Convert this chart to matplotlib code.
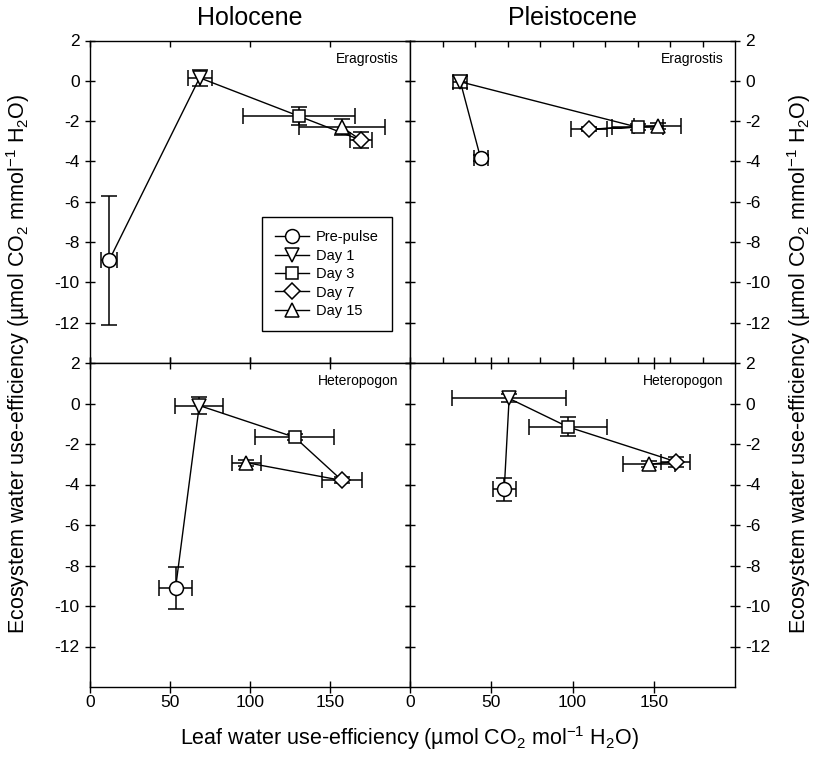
import matplotlib
matplotlib.use('Agg')
import matplotlib.pyplot as plt
from matplotlib.lines import Line2D

plt.rcParams['font.family'] = ['Liberation Sans', 'DejaVu Sans']
plt.rcParams['mathtext.fontset'] = 'custom'
plt.rcParams['mathtext.rm'] = 'Liberation Sans'
plt.rcParams['mathtext.it'] = 'Liberation Sans:italic'
plt.rcParams['mathtext.default'] = 'regular'
plt.rcParams['axes.unicode_minus'] = False

# Sampling dates (order of the connecting line)
stages = ['Pre-pulse', 'Day 1', 'Day 3', 'Day 7', 'Day 15']

# Holocene - Eragrostis
holo_erag_x = [12, 68.5, 130.5, 169.5, 157.5]
holo_erag_y = [-8.9, 0.15, -1.75, -2.95, -2.3]
holo_erag_xerr = [5, 7.5, 35, 7, 27]
holo_erag_yerr = [3.2, 0.4, 0.45, 0.4, 0.4]

# Pleistocene - Eragrostis
pleis_erag_x = [43.5, 31, 140, 110, 152.5]
pleis_erag_y = [-3.85, -0.05, -2.3, -2.4, -2.25]
pleis_erag_xerr = [4.3, 4.3, 15.5, 11, 14.5]
pleis_erag_yerr = [0.15, 0.3, 0.15, 0.1, 0.15]

# Holocene - Heteropogon
holo_het_x = [53.5, 68.3, 128, 157.5, 97.7]
holo_het_y = [-9.1, -0.1, -1.67, -3.8, -2.92]
holo_het_xerr = [10.4, 15, 24.8, 12.3, 9.2]
holo_het_yerr = [1.05, 0.4, 0.15, 0.15, 0.15]

# Pleistocene - Heteropogon
pleis_het_x = [58, 61, 97, 163.5, 147.3]
pleis_het_y = [-4.23, 0.25, -1.15, -2.87, -3.0]
pleis_het_xerr = [7, 35.3, 24, 8.8, 16]
pleis_het_yerr = [0.57, 0.2, 0.47, 0.25, 0.15]

period_titles = ['Holocene', 'Pleistocene']
species_names = ['Eragrostis', 'Heteropogon']

y_ticks = [2, 0, -2, -4, -6, -8, -10, -12]

markers = ['o', 'v', 's', 'D', '^']
msizes = [10, 10, 9, 8, 10]

fig = plt.figure(figsize=(8.14, 7.59), dpi=100)

L, M, R = 90 / 814, 410 / 814, 735 / 814
T, C, B = 1 - 40.5 / 759, 1 - 363 / 759, 1 - 687 / 759

ax_tl = fig.add_axes([L, C, M - L, T - C])
ax_tr = fig.add_axes([M, C, R - M, T - C])
ax_bl = fig.add_axes([L, B, M - L, C - B])
ax_br = fig.add_axes([M, B, R - M, C - B])

panels = [
    (ax_tl, holo_erag_x, holo_erag_y, holo_erag_xerr, holo_erag_yerr, species_names[0]),
    (ax_tr, pleis_erag_x, pleis_erag_y, pleis_erag_xerr, pleis_erag_yerr, species_names[0]),
    (ax_bl, holo_het_x, holo_het_y, holo_het_xerr, holo_het_yerr, species_names[1]),
    (ax_br, pleis_het_x, pleis_het_y, pleis_het_xerr, pleis_het_yerr, species_names[1]),
]

for ax, xs, ys, xe, ye, name in panels:
    ax.plot(xs, ys, '-', color='black', lw=1.0, zorder=1)
    for i in range(len(xs)):
        ax.errorbar(xs[i], ys[i], xerr=xe[i], yerr=ye[i], fmt='none',
                    ecolor='black', elinewidth=1.1, capsize=6, capthick=1.1,
                    zorder=2)
        ax.plot(xs[i], ys[i], linestyle='none', marker=markers[i],
                ms=msizes[i], mfc='white', mec='black', mew=1.1, zorder=3)
    ax.set_xlim(0, 200)
    ax.set_ylim(-14, 2)
    ax.text(0.965, 0.965, name, transform=ax.transAxes, ha='right', va='top',
            fontsize=10)
    for sp in ax.spines.values():
        sp.set_linewidth(1.0)
    ax.set_yticks(y_ticks)
    ax.tick_params(axis='y', which='both', direction='inout', length=7,
                   width=1.0, left=True, right=True, labelsize=12.5, pad=4)

# Left column: y labels on the left
for ax in (ax_tl, ax_bl):
    ax.tick_params(axis='y', labelleft=True, labelright=False)
# Right column: y labels on the right
for ax in (ax_tr, ax_br):
    ax.tick_params(axis='y', labelleft=False, labelright=True)

# x ticks
ax_tl.set_xticks([0, 50, 100, 150])
ax_tl.tick_params(axis='x', direction='in', length=4, width=1.0, top=True,
                  bottom=True, labelbottom=False)
ax_tr.set_xticks([20, 40, 60, 80, 100, 120, 140, 160, 180])
ax_tr.tick_params(axis='x', direction='in', length=4, width=1.0, top=True,
                  bottom=True, labelbottom=False)
for ax in (ax_bl, ax_br):
    ax.set_xticks([0, 50, 100, 150])
    ax.tick_params(axis='x', direction='inout', length=8, width=1.0, top=True,
                   bottom=True, labelbottom=True, labelsize=12.5, pad=2)

# Legend
handles = [Line2D([0], [0], color='black', lw=1.0, marker=markers[i],
                  ms=msizes[i], mfc='white', mec='black', mew=1.1)
           for i in range(len(stages))]
leg = ax_tl.legend(handles, stages, loc='lower right',
                   bbox_to_anchor=(0.944, 0.099), fontsize=10.5, frameon=True,
                   fancybox=False, edgecolor='black', framealpha=1,
                   handlelength=2.3, handletextpad=0.5, labelspacing=0.3,
                   borderpad=0.9, borderaxespad=0)
leg.get_frame().set_linewidth(1.0)

# Column titles
fig.text((L + M) / 2, 1 - 18 / 759, period_titles[0], ha='center', va='center',
         fontsize=18)
fig.text((M + R) / 2, 1 - 18 / 759, period_titles[1], ha='center', va='center',
         fontsize=18)

ylab = r'Ecosystem water use-efficiency (µmol CO$_2$ mmol$^{-1}$ H$_2$O)'
fig.text(18 / 814, (T + B) / 2, ylab, rotation=90, ha='center', va='center',
         fontsize=15.5)
fig.text(799 / 814, (T + B) / 2, ylab, rotation=90, ha='center', va='center',
         fontsize=15.5)
fig.text(410 / 814, 1 - 738 / 759,
         r'Leaf water use-efficiency (µmol CO$_2$ mol$^{-1}$ H$_2$O)',
         ha='center', va='center', fontsize=15.5)

fig.savefig('out.png', dpi=100)
